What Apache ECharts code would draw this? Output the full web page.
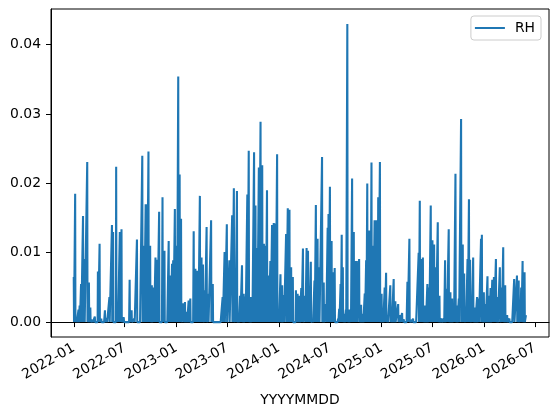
<!DOCTYPE html>
<html>
<head>
<meta charset="utf-8">
<script src="https://cdn.jsdelivr.net/npm/echarts@6.0.0/dist/echarts.min.js"></script>
<style>
  html, body { margin: 0; padding: 0; background: #fff; }
  #chart { width: 556px; height: 416px; }
</style>
</head>
<body>
<div id="chart"></div>
<script>
// daily RH series, day 0 = 2022-01-01; days not listed sit on the 0 baseline
var startDate = '2022-01-01';
var lastDataDay = 1610;          // 2026-05-30
var axisFirstDay = -81;          // x range incl. matplotlib-like margins
var axisLastDay = 1692;

var peakDays = [
  0, 5, 10, 17, 21, 26, 33, 38, 48, 54, 59, 67, 75, 86, 92, 98, 111, 118, 127, 136,
  140, 151, 157, 164, 170, 178, 199, 206, 216, 225, 232, 244, 250, 256, 260, 266, 272, 278, 285, 291,
  297, 304, 316, 323, 338, 344, 350, 354, 360, 367, 372, 377, 382, 390, 396, 403, 409, 415, 427, 433,
  439, 443, 449, 455, 460, 466, 473, 479, 489, 495, 530, 537, 545, 554, 564, 570, 575, 581, 587, 592,
  599, 605, 611, 618, 623, 629, 635, 642, 647, 653, 659, 665, 671, 677, 683, 688, 694, 700, 706, 712,
  718, 724, 730, 736, 742, 748, 756, 762, 768, 774, 780, 791, 797, 804, 810, 816, 824, 829, 834, 838,
  844, 851, 857, 862, 868, 874, 884, 890, 898, 904, 907, 912, 918, 923, 929, 935, 941, 945, 950, 954,
  958, 964, 969, 974, 980, 986, 991, 997, 1002, 1008, 1016, 1023, 1030, 1036, 1041, 1045, 1052, 1056, 1060, 1066,
  1071, 1077, 1081, 1084, 1090, 1096, 1101, 1107, 1112, 1118, 1127, 1132, 1139, 1145, 1155, 1161, 1169, 1175, 1188, 1195,
  1202, 1208, 1215, 1228, 1232, 1238, 1243, 1249, 1253, 1259, 1265, 1271, 1277, 1283, 1289, 1296, 1302, 1310, 1318, 1322,
  1328, 1335, 1341, 1347, 1353, 1359, 1365, 1371, 1379, 1385, 1390, 1396, 1402, 1407, 1411, 1416, 1422, 1429, 1436, 1442,
  1450, 1453, 1460, 1466, 1473, 1479, 1484, 1490, 1496, 1503, 1509, 1517, 1523, 1529, 1536, 1543, 1551, 1568, 1578, 1584,
  1589, 1593, 1598, 1605, 1610
];
var peakValues = [
  0.0065, 0.0185, 0.0007, 0.0018, 0.0024, 0.0055, 0.0153, 0.0091, 0.0231, 0.0057, 0.0021, 0.0003, 0.0008, 0.0073, 0.0113, 0.0005, 0.0017, 0.0006, 0.0036, 0.0140,
  0.0130, 0.0224, 0.0029, 0.0130, 0.0134, 0.0007, 0.0061, 0.0017, 0.0005, 0.0119, 0.0002, 0.0240, 0.0110, 0.0170, 0.0170, 0.0246, 0.0110, 0.0053, 0.0050, 0.0093,
  0.0090, 0.0159, 0.0180, 0.0103, 0.0117, 0.0067, 0.0084, 0.0089, 0.0163, 0.0110, 0.0354, 0.0213, 0.0149, 0.0027, 0.0029, 0.0015, 0.0031, 0.0034, 0.0131, 0.0077,
  0.0074, 0.0074, 0.0182, 0.0093, 0.0083, 0.0046, 0.0137, 0.0041, 0.0147, 0.0055, 0.0036, 0.0101, 0.0141, 0.0089, 0.0154, 0.0193, 0.0037, 0.0189, 0.0005, 0.0038,
  0.0082, 0.0041, 0.0037, 0.0184, 0.0247, 0.0036, 0.0036, 0.0245, 0.0168, 0.0107, 0.0223, 0.0289, 0.0226, 0.0113, 0.0110, 0.0190, 0.0067, 0.0088, 0.0140, 0.0143,
  0.0142, 0.0242, 0.0018, 0.0069, 0.0053, 0.0039, 0.0127, 0.0164, 0.0162, 0.0079, 0.0065, 0.0046, 0.0041, 0.0038, 0.0049, 0.0106, 0.0038, 0.0107, 0.0103, 0.0050,
  0.0087, 0.0003, 0.0060, 0.0169, 0.0120, 0.0079, 0.0238, 0.0057, 0.0026, 0.0136, 0.0156, 0.0195, 0.0117, 0.0072, 0.0078, 0.0002, 0.0005, 0.0019, 0.0055, 0.0126,
  0.0079, 0.0012, 0.0018, 0.0430, 0.0018, 0.0017, 0.0207, 0.0130, 0.0088, 0.0088, 0.0091, 0.0025, 0.0012, 0.0041, 0.0089, 0.0200, 0.0132, 0.0120, 0.0230, 0.0110,
  0.0147, 0.0147, 0.0108, 0.0180, 0.0231, 0.0041, 0.0007, 0.0050, 0.0071, 0.0010, 0.0053, 0.0022, 0.0062, 0.0030, 0.0026, 0.0010, 0.0013, 0.0004, 0.0058, 0.0120,
  0.0003, 0.0005, 0.0002, 0.0100, 0.0175, 0.0091, 0.0093, 0.0024, 0.0010, 0.0055, 0.0050, 0.0168, 0.0118, 0.0112, 0.0079, 0.0144, 0.0038, 0.0005, 0.0005, 0.0089,
  0.0048, 0.0134, 0.0043, 0.0034, 0.0022, 0.0214, 0.0024, 0.0034, 0.0293, 0.0112, 0.0070, 0.0022, 0.0091, 0.0177, 0.0090, 0.0020, 0.0093, 0.0021, 0.0036, 0.0034,
  0.0120, 0.0126, 0.0043, 0.0026, 0.0066, 0.0038, 0.0049, 0.0061, 0.0065, 0.0091, 0.0036, 0.0079, 0.0050, 0.0108, 0.0053, 0.0010, 0.0005, 0.0062, 0.0067, 0.0060,
  0.0026, 0.0050, 0.0088, 0.0072, 0.0010
];
var yTicks = [0, 0.01, 0.02, 0.03, 0.04];
var yMin = -0.00215, yMax = 0.04515;

var DAY = 86400000;
var t0 = Date.parse(startDate + 'T00:00:00Z');
function dayStr(d) { return new Date(t0 + d * DAY).toISOString().slice(0, 10); }

var peakMap = {};
peakDays.forEach(function (d, i) { peakMap[d] = peakValues[i]; });

var categories = [], values = [];
for (var d = axisFirstDay; d <= axisLastDay; d++) {
  categories.push(dayStr(d));
  if (d < 0 || d > lastDataDay) values.push('-');
  else values.push(peakMap[d] !== undefined ? peakMap[d] : 0);
}

function isHalfYear(idx, val) {
  return /-(01|07)-01$/.test(val);
}

var font = 'DejaVu Sans';
var myChart = echarts.init(document.getElementById('chart'), null, { renderer: 'canvas' });
myChart.setOption({
  animation: false,
  backgroundColor: '#fff',
  grid: {
    left: 51, right: 7, top: 9, bottom: 79,
    containLabel: false,
    outerBoundsMode: 'none',
    show: true,
    borderColor: '#000',
    borderWidth: 1
  },
  legend: {
    data: [{ name: 'RH', icon: 'rect' }],
    right: 15, top: 16,
    padding: [5, 6, 5, 4],
    itemWidth: 30, itemHeight: 2,
    backgroundColor: '#fff',
    borderColor: '#cccccc', borderWidth: 1, borderRadius: 3,
    textStyle: { fontFamily: font, fontSize: 13.9, color: '#000', padding: [0, 0, 0, 5] }
  },
  xAxis: {
    type: 'category',
    data: categories,
    boundaryGap: false,
    name: 'YYYYMMDD',
    nameLocation: 'middle',
    nameGap: 56,
    nameTextStyle: { fontFamily: font, fontSize: 13.9, color: '#000' },
    axisLine: { lineStyle: { color: '#000', width: 1 } },
    axisTick: { show: true, interval: isHalfYear, length: 5, lineStyle: { color: '#000' } },
    axisLabel: {
      interval: isHalfYear,
      rotate: 30,
      margin: 10,
      fontFamily: font, fontSize: 13.9, color: '#000',
      formatter: function (v) { return v.slice(0, 7); }
    },
    splitLine: { show: false }
  },
  yAxis: {
    type: 'value',
    min: yMin, max: yMax,
    axisLine: { show: true, lineStyle: { color: '#000', width: 1 } },
    axisTick: { show: true, length: 5, customValues: yTicks, lineStyle: { color: '#000' } },
    axisLabel: {
      customValues: yTicks,
      margin: 10,
      fontFamily: font, fontSize: 13.9, color: '#000',
      formatter: function (v) { return v.toFixed(2); }
    },
    splitLine: { show: false }
  },
  series: [{
    name: 'RH',
    type: 'line',
    data: values,
    symbol: 'none',
    showSymbol: false,
    connectNulls: false,
    lineStyle: { color: '#1f77b4', width: 2.08 },
    itemStyle: { color: '#1f77b4' }
  }]
});
window.onresize = myChart.resize;
</script>
</body>
</html>
